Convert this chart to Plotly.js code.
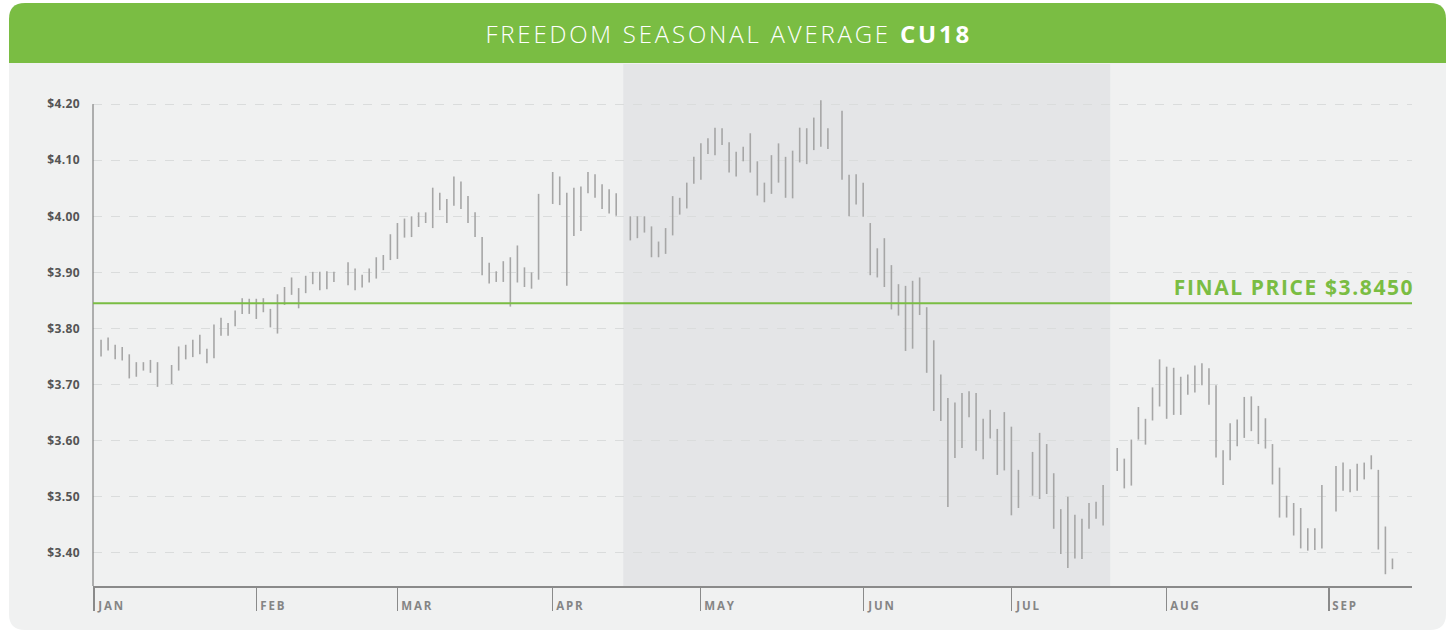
<!DOCTYPE html>
<html>
<head>
<meta charset="utf-8">
<script src="https://cdn.plot.ly/plotly-3.0.1.min.js"></script>
<style>
  html, body { margin: 0; padding: 0; background: #ffffff; }
  #chart { width: 1448px; height: 632px; }
  /* wide geometric look of the original typeface */
  #chart .annotation[data-index="0"] text { letter-spacing: 2.8px; }
  #chart .annotation[data-index="1"] text { letter-spacing: 1.6px; }
  #chart .annotation:not([data-index="0"]):not([data-index="1"]) text { letter-spacing: 1.8px; }
  #chart .ytick text { letter-spacing: 0.4px; }
</style>
</head>
<body>
<div id="chart"></div>
<script>
// ---------------- DATA ----------------
const chartTitle = 'FREEDOM SEASONAL AVERAGE';
const contractCode = 'CU18';
const finalPrice = 3.845;

const dates = [
  '2018-01-02','2018-01-03','2018-01-04','2018-01-05','2018-01-08','2018-01-09','2018-01-10','2018-01-11','2018-01-12',
  '2018-01-16','2018-01-17','2018-01-18','2018-01-19','2018-01-22','2018-01-23','2018-01-24','2018-01-25','2018-01-26',
  '2018-01-29','2018-01-30','2018-01-31',
  '2018-02-01','2018-02-02','2018-02-05','2018-02-06','2018-02-07','2018-02-08','2018-02-09','2018-02-12','2018-02-13',
  '2018-02-14','2018-02-15','2018-02-16','2018-02-20','2018-02-21','2018-02-22','2018-02-23','2018-02-26','2018-02-27','2018-02-28',
  '2018-03-01','2018-03-02','2018-03-05','2018-03-06','2018-03-07','2018-03-08','2018-03-09','2018-03-12','2018-03-13',
  '2018-03-14','2018-03-15','2018-03-16','2018-03-19','2018-03-20','2018-03-21','2018-03-22','2018-03-23','2018-03-26',
  '2018-03-27','2018-03-28','2018-03-29',
  '2018-04-02','2018-04-03','2018-04-04','2018-04-05','2018-04-06','2018-04-09','2018-04-10','2018-04-11','2018-04-12',
  '2018-04-13','2018-04-17','2018-04-18','2018-04-19','2018-04-20','2018-04-23','2018-04-24','2018-04-25','2018-04-26',
  '2018-04-27','2018-04-30',
  '2018-05-01','2018-05-02','2018-05-03','2018-05-04','2018-05-07','2018-05-08','2018-05-09','2018-05-10','2018-05-11',
  '2018-05-14','2018-05-15','2018-05-16','2018-05-17','2018-05-18','2018-05-21','2018-05-22','2018-05-23','2018-05-24',
  '2018-05-25','2018-05-29','2018-05-30','2018-05-31',
  '2018-06-01','2018-06-04','2018-06-05','2018-06-06','2018-06-07','2018-06-08','2018-06-11','2018-06-12','2018-06-13',
  '2018-06-14','2018-06-15','2018-06-18','2018-06-19','2018-06-20','2018-06-21','2018-06-22','2018-06-25','2018-06-26',
  '2018-06-27','2018-06-28','2018-06-29',
  '2018-07-02','2018-07-03','2018-07-05','2018-07-06','2018-07-09','2018-07-10','2018-07-11','2018-07-12','2018-07-13',
  '2018-07-16','2018-07-17','2018-07-18','2018-07-19','2018-07-23','2018-07-24','2018-07-25','2018-07-26','2018-07-27',
  '2018-07-30','2018-07-31',
  '2018-08-01','2018-08-02','2018-08-03','2018-08-06','2018-08-07','2018-08-08','2018-08-09','2018-08-10','2018-08-13',
  '2018-08-14','2018-08-15','2018-08-16','2018-08-17','2018-08-20','2018-08-21','2018-08-22','2018-08-23','2018-08-24',
  '2018-08-27','2018-08-28','2018-08-29','2018-08-30','2018-08-31',
  '2018-09-04','2018-09-05','2018-09-06','2018-09-07','2018-09-10','2018-09-11','2018-09-12','2018-09-13','2018-09-14'
];

const highs = [
  3.780,3.784,3.771,3.767,3.754,3.740,3.740,3.744,3.740,
  3.735,3.768,3.771,3.780,3.789,3.764,3.807,3.819,3.810,
  3.832,3.854,3.853,
  3.853,3.854,3.835,3.861,3.874,3.891,3.872,3.894,3.901,
  3.901,3.902,3.901,3.918,3.907,3.896,3.907,3.927,3.931,3.968,
  3.988,3.996,4.000,4.007,4.007,4.051,4.042,4.031,4.071,
  4.062,4.036,4.007,3.963,3.917,3.902,3.920,3.927,3.948,
  3.909,3.900,4.040,
  4.079,4.071,4.042,4.051,4.053,4.079,4.075,4.057,4.048,
  4.041,4.000,4.000,4.000,3.982,3.955,3.979,4.036,4.033,
  4.060,4.106,
  4.130,4.139,4.158,4.157,4.132,4.115,4.124,4.148,4.098,
  4.060,4.109,4.130,4.106,4.117,4.158,4.157,4.176,4.207,
  4.157,4.188,4.074,4.075,
  4.060,3.988,3.943,3.961,3.913,3.879,3.876,3.885,3.891,
  3.838,3.779,3.718,3.676,3.668,3.685,3.688,3.685,3.639,
  3.655,3.621,3.651,
  3.625,3.548,3.580,3.614,3.594,3.542,3.478,3.500,3.468,
  3.461,3.489,3.491,3.521,3.587,3.568,3.602,3.660,3.639,
  3.695,3.745,
  3.732,3.730,3.714,3.718,3.734,3.738,3.729,3.699,3.583,
  3.631,3.638,3.678,3.679,3.662,3.640,3.594,3.552,3.502,
  3.489,3.480,3.444,3.444,3.521,
  3.555,3.561,3.549,3.559,3.561,3.574,3.548,3.447,3.390
];

const lows = [
  3.750,3.761,3.745,3.743,3.711,3.714,3.725,3.721,3.696,
  3.701,3.725,3.745,3.749,3.754,3.738,3.747,3.787,3.787,
  3.804,3.826,3.826,
  3.817,3.829,3.802,3.791,3.842,3.860,3.836,3.863,3.879,
  3.868,3.870,3.883,3.877,3.868,3.873,3.882,3.889,3.904,3.922,
  3.924,3.962,3.963,3.981,3.988,3.979,4.011,3.988,4.019,
  4.013,3.988,3.963,3.895,3.880,3.883,3.883,3.839,3.882,
  3.874,3.871,3.887,
  4.022,4.020,3.876,3.965,3.974,4.041,4.033,4.013,4.005,
  4.001,3.957,3.961,3.971,3.927,3.927,3.933,3.966,4.003,
  4.014,4.058,
  4.065,4.111,4.109,4.127,4.078,4.071,4.098,4.078,4.037,
  4.025,4.040,4.060,4.033,4.032,4.096,4.093,4.118,4.124,
  4.120,4.065,4.000,4.021,
  3.999,3.895,3.891,3.874,3.834,3.823,3.760,3.764,3.824,
  3.721,3.653,3.635,3.482,3.569,3.587,3.642,3.582,3.567,
  3.604,3.539,3.547,
  3.467,3.480,3.502,3.496,3.505,3.443,3.398,3.373,3.390,
  3.389,3.443,3.461,3.449,3.546,3.515,3.520,3.602,3.593,
  3.636,3.661,
  3.639,3.646,3.646,3.682,3.686,3.699,3.664,3.570,3.521,
  3.565,3.590,3.605,3.617,3.594,3.586,3.522,3.463,3.463,
  3.431,3.408,3.404,3.405,3.408,
  3.474,3.511,3.508,3.511,3.531,3.549,3.406,3.362,3.371
];

// seasonal window (shaded)
const seasonStart = '2018-04-16';
const seasonEnd = '2018-07-20';

// axis ticks
const monthTickDates = ['2018-01-01','2018-02-01','2018-03-01','2018-04-02','2018-05-01','2018-06-01','2018-07-02','2018-08-01','2018-09-03'];
const monthTickLabels = ['JAN','FEB','MAR','APR','MAY','JUN','JUL','AUG','SEP'];
const priceTickVals = [3.40,3.50,3.60,3.70,3.80,3.90,4.00,4.10,4.20];
const priceTickLabels = ['$3.40','$3.50','$3.60','$3.70','$3.80','$3.90','$4.00','$4.10','$4.20'];

// ---------------- LAYOUT HELPERS ----------------
const W = 1448, H = 632;
const M = {l: 93, r: 36, t: 93, b: 46};
const PW = W - M.l - M.r, PH = H - M.t - M.b;
const px = v => (v - M.l) / PW;          // pixel x -> paper
const py = v => (H - M.b - v) / PH;      // pixel y -> paper

function roundedPath(x0, y0, x1, y1, r, roundBottom) {
  const P = (x, y) => px(x).toFixed(5) + ',' + py(y).toFixed(5);
  let d = 'M' + P(x0, y0 + r) + ' Q' + P(x0, y0) + ' ' + P(x0 + r, y0) +
          ' L' + P(x1 - r, y0) + ' Q' + P(x1, y0) + ' ' + P(x1, y0 + r);
  if (roundBottom) {
    d += ' L' + P(x1, y1 - r) + ' Q' + P(x1, y1) + ' ' + P(x1 - r, y1) +
         ' L' + P(x0 + r, y1) + ' Q' + P(x0, y1) + ' ' + P(x0, y1 - r);
  } else {
    d += ' L' + P(x1, y1) + ' L' + P(x0, y1);
  }
  return d + ' Z';
}

// ---------------- TRACE ----------------
const segX = [], segY = [];
dates.forEach((d, i) => {
  segX.push(d, d, null);
  segY.push(lows[i], highs[i], null);
});

const bars = {
  type: 'scatter',
  mode: 'lines',
  x: segX,
  y: segY,
  connectgaps: false,
  line: {color: '#a6a6a6', width: 1.6},
  hoverinfo: 'skip',
  showlegend: false
};

const GREEN = '#7abd43';
const FONT = 'Open Sans, Lato, sans-serif';

const annotations = [
  {
    xref: 'paper', yref: 'paper', x: px(728.5), y: py(33),
    xanchor: 'center', yanchor: 'middle', showarrow: false,
    text: chartTitle + ' <b>' + contractCode + '</b>',
    font: {family: FONT, size: 24, color: '#ffffff', weight: 300}
  },
  {
    xref: 'paper', yref: 'y', x: px(1294), y: finalPrice,
    xanchor: 'center', yanchor: 'bottom', yshift: 0, showarrow: false,
    text: 'FINAL PRICE $' + finalPrice.toFixed(4),
    font: {family: FONT, size: 21, color: GREEN, weight: 700}
  }
];
monthTickDates.forEach((d, i) => {
  annotations.push({
    xref: 'x', yref: 'paper', x: d, y: py(605.5),
    xanchor: 'left', yanchor: 'middle', xshift: 4.5, showarrow: false,
    text: '<b>' + monthTickLabels[i] + '</b>',
    font: {family: FONT, size: 11.5, color: '#858585'}
  });
});

const shapes = [
  {type: 'path', xref: 'paper', yref: 'paper', layer: 'below',
   path: roundedPath(9, 3, 1446, 630, 16, true),
   fillcolor: '#f0f1f1', line: {width: 0}},
  {type: 'path', xref: 'paper', yref: 'paper', layer: 'below',
   path: roundedPath(9, 3, 1446, 63, 16, false),
   fillcolor: GREEN, line: {width: 0}},
  {type: 'rect', xref: 'x', yref: 'paper', layer: 'below',
   x0: seasonStart, x1: seasonEnd, y0: 0, y1: py(64),
   fillcolor: '#e4e5e7', line: {width: 0}},
  {type: 'line', xref: 'paper', yref: 'y', layer: 'above',
   x0: 0, x1: 0, y0: 3.2, y1: priceTickVals[priceTickVals.length - 1],
   line: {color: '#6a6a6a', width: 1}},
  {type: 'line', xref: 'paper', yref: 'y', layer: 'above',
   x0: 0, x1: 1, y0: finalPrice, y1: finalPrice,
   line: {color: GREEN, width: 2}}
];

const layout = {
  width: W, height: H,
  margin: M,
  paper_bgcolor: '#ffffff',
  plot_bgcolor: 'rgba(0,0,0,0)',
  showlegend: false,
  font: {family: FONT},
  xaxis: {
    type: 'date',
    range: ['2017-12-29 20:38', '2018-09-18 18:29'],
    rangebreaks: [{bounds: ['sat', 'mon']}],
    showgrid: false, zeroline: false,
    showline: true, linecolor: '#8a8a8a', linewidth: 1.5,
    ticks: 'outside', ticklen: 23, tickwidth: 1.2, tickcolor: '#8a8a8a',
    tickmode: 'array', tickvals: monthTickDates, ticktext: monthTickDates.map(() => ''),
    fixedrange: true
  },
  yaxis: {
    range: [3.341, 3.341 + PH / 561],
    showgrid: true, gridcolor: '#dadcdc', gridwidth: 1, griddash: 'dash',
    zeroline: false, showline: false, ticks: '',
    tickmode: 'array', tickvals: priceTickVals, ticktext: priceTickLabels,
    ticklabelstandoff: 12,
    tickfont: {family: FONT, size: 12, color: '#555555', weight: 700},
    fixedrange: true
  },
  shapes: shapes,
  annotations: annotations
};

Plotly.newPlot('chart', [bars], layout, {displayModeBar: false, staticPlot: true});
</script>
</body>
</html>
